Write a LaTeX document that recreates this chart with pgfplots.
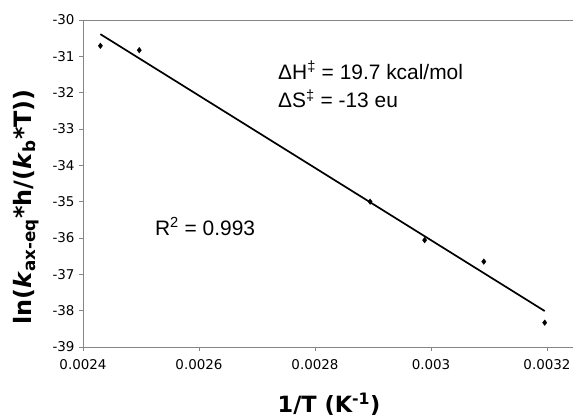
\documentclass[border=0pt]{standalone}
\usepackage{fontspec}
\setmainfont{DejaVu Sans}
\newfontfamily\arial{Liberation Sans}
\usepackage{pgfplots}
\pgfplotsset{compat=1.18}

\definecolor{axisGray}{HTML}{868686}

\begin{document}
\begin{tikzpicture}[x=1bp,y=1bp]

% === EJES ===
\begin{axis}[
    at={(83bp,71bp)}, anchor=south west,
    scale only axis,
    width=490bp, height=327bp,
    xmin=0.0024, xmax=0.0032448,
    ymin=-39, ymax=-30,
    axis x line*=box,
    axis y line*=left,
    axis line style={color=axisGray, line width=0.8pt},
    xtick={0.0024,0.0026,0.0028,0.003,0.0032},
    xticklabels={0.0024,0.0026,0.0028,0.003,0.0032},
    scaled x ticks=false,
    ytick={-39,-38,-37,-36,-35,-34,-33,-32,-31,-30},
    yticklabels={-39,-38,-37,-36,-35,-34,-33,-32,-31,-30},
    xtick pos=bottom, ytick pos=left,
    tick align=outside,
    major tick length=4bp,
    tick style={color=axisGray, line width=0.8pt},
    tick label style={font=\fontsize{13.5}{15}\selectfont, text=black},
    xticklabel style={yshift=-5bp},
    yticklabel style={xshift=-1bp},
    clip=false,
]

% datos experimentales
\addplot[only marks, mark=diamond*, mark size=2.8bp, color=black] coordinates {
    (0.002430,-30.71) (0.002497,-30.83) (0.002895,-35.00)
    (0.002989,-36.06) (0.003091,-36.65) (0.003196,-38.33)
};

% ajuste lineal
\addplot[black, line width=1.7bp, no marks] coordinates {
    (0.002430,-30.39) (0.003196,-38.01)
};

% anotaciones
\node[anchor=west, inner sep=0pt, font=\arial\fontsize{21}{24}\selectfont]
    at (axis cs:0.0027362,-31.38) {ΔH\textsuperscript{‡} = 19.7 kcal/mol};
\node[anchor=west, inner sep=0pt, font=\arial\fontsize{21}{24}\selectfont]
    at (axis cs:0.0027362,-32.17) {ΔS\textsuperscript{‡} = -13 eu};
\node[anchor=west, inner sep=0pt, font=\arial\fontsize{21}{24}\selectfont]
    at (axis cs:0.002524,-35.69) {R\textsuperscript{2} = 0.993};

\end{axis}

% etiquetas de ejes
\node[font=\bfseries\fontsize{22.5}{26}\selectfont, inner sep=0pt, anchor=base] at (329bp,6bp)
    {1/T (K\textsuperscript{-1})};
\node[rotate=90, font=\bfseries\fontsize{24}{28}\selectfont] at (26bp,211bp)
    {ln(\textit{k}\textsubscript{ax-eq}*h/(\textit{k}\textsubscript{b}*T))};

\pgfresetboundingbox
\path[use as bounding box] (0,0) rectangle (573bp,418bp);
\end{tikzpicture}
\end{document}
